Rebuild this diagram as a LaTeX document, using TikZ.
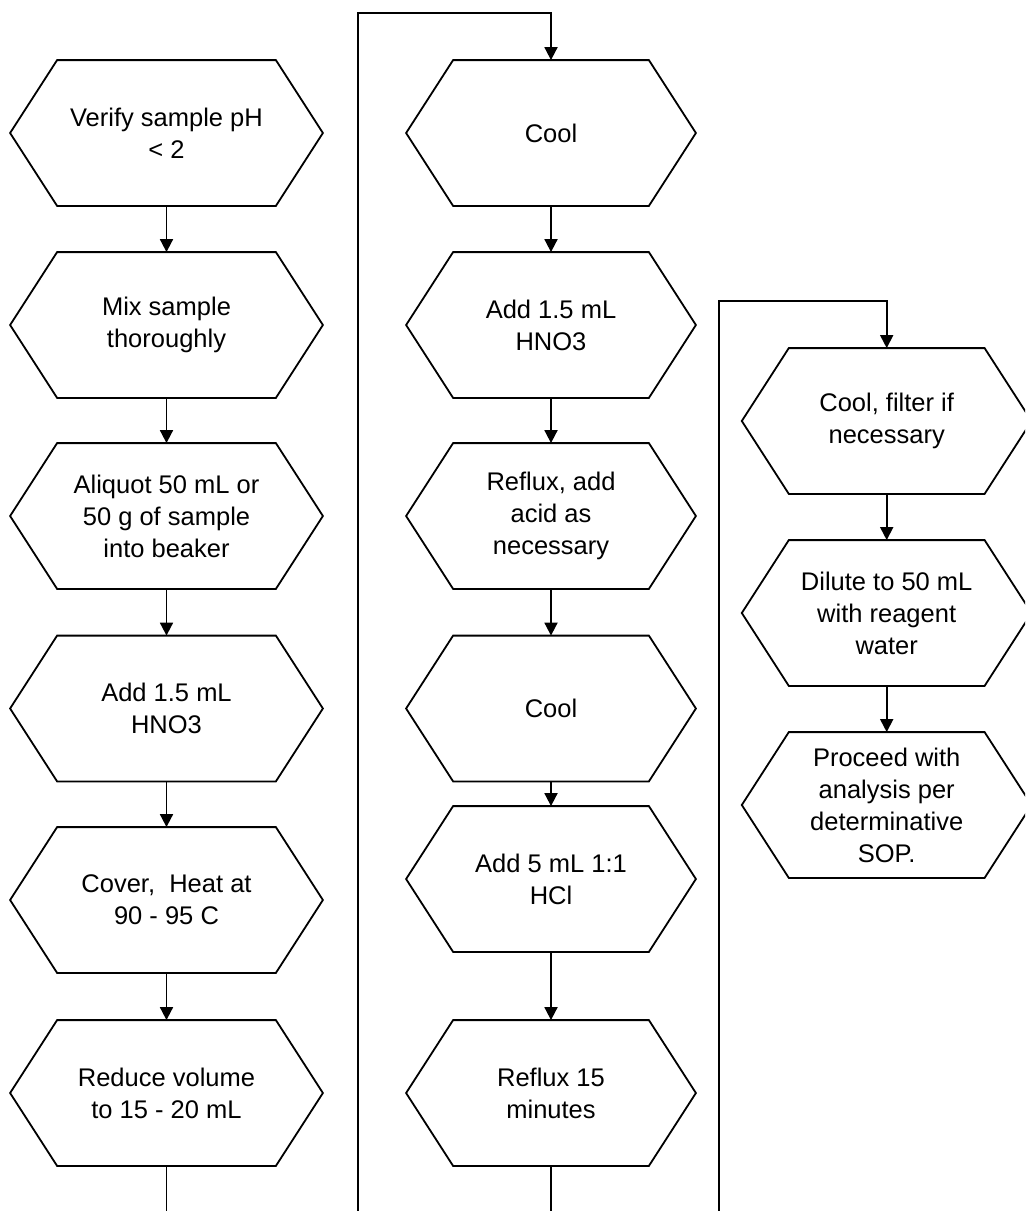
\documentclass[tikz,border=0pt]{standalone}
\usepackage{fontspec}
\setmainfont{Liberation Sans}
\usetikzlibrary{arrows.meta}
\begin{document}
\begin{tikzpicture}[x=0.5pt,y=-0.5pt,>={Triangle[length=6.5pt,width=6.5pt]},
    line width=0.9pt,
    stepA/.style={minimum width=155.5pt,minimum height=72pt,inner sep=0pt,align=center,
      font=\fontsize{12.75pt}{16pt}\selectfont},
    stepB/.style={stepA,minimum width=144pt}]
  \useasboundingbox (0,0) rectangle (1025,1211);
  \clip (0,0) rectangle (1025,1211);
  \node[stepA] (a1) at (166.5,133) {Verify sample pH\\< 2};
  \node[stepA] (a2) at (166.5,325) {Mix sample\\thoroughly};
  \node[stepA] (a3) at (166.5,516) {Aliquot 50 mL or\\50 g of sample\\into beaker};
  \node[stepA] (a4) at (166.5,708.5) {Add 1.5 mL\\HNO3};
  \node[stepA] (a5) at (166.5,900) {Cover,~ Heat at\\90 - 95 C};
  \node[stepA] (a6) at (166.5,1093) {Reduce volume\\to 15 - 20 mL};
  \node[stepB] (b1) at (551,133) {Cool};
  \node[stepB] (b2) at (551,325) {Add 1.5 mL\\HNO3};
  \node[stepB] (b3) at (551,516) {Reflux, add\\acid as\\necessary};
  \node[stepB] (b4) at (551,708.5) {Cool};
  \node[stepB] (b5) at (551,879) {Add 5 mL 1:1\\HCl};
  \node[stepB] (b6) at (551,1093) {Reflux 15\\minutes};
  \node[stepB] (c1) at (886.7,421) {Cool, filter if\\necessary};
  \node[stepB] (c2) at (886.7,613) {Dilute to 50 mL\\with reagent\\water};
  \node[stepB] (c3) at (886.7,805) {Proceed with\\analysis per\\determinative\\SOP.};
  \foreach \n in {a1,a2,a3,a4,a5,a6,b1,b2,b3,b4,b5,b6,c1,c2,c3}
    \draw[line join=miter] (\n.west) -- ([xshift=23.5pt]\n.north west)
      -- ([xshift=-23.5pt]\n.north east) -- (\n.east)
      -- ([xshift=-23.5pt]\n.south east) -- ([xshift=23.5pt]\n.south west) -- cycle;
  \foreach \p/\q in {a1/a2,a2/a3,a3/a4,a4/a5,a5/a6,b1/b2,b2/b3,b3/b4,b4/b5,b5/b6,c1/c2,c2/c3}
    \draw[->] (\p.south) -- (\q.north);
  \coordinate (up1) at (358,13);
  \coordinate (up2) at (719,301);
  \draw[->] (a6.south) -- ++(0,120) -| (up1) -| (b1.north);
  \draw[->] (b6.south) -- ++(0,120) -| (up2) -| (c1.north);
\end{tikzpicture}
\end{document}
